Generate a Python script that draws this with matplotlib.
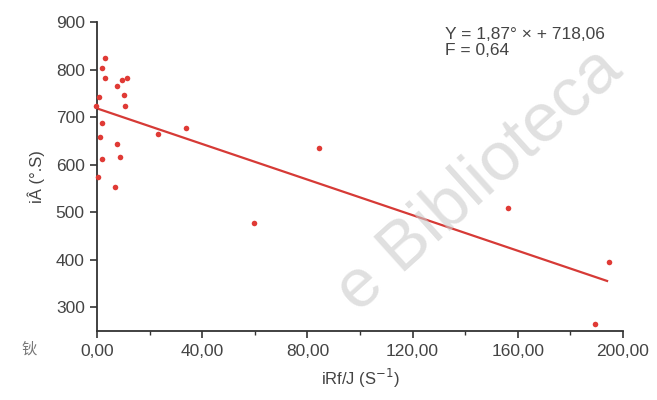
import matplotlib
matplotlib.use("Agg")
import matplotlib.pyplot as plt
from matplotlib.ticker import MultipleLocator, FuncFormatter

plt.rcParams['font.family'] = ['Liberation Sans', 'Noto Sans CJK SC', 'DejaVu Sans']

# points
rate = [2.9, 1.9, 3.0, 0.6, -0.4, 1.9, 0.9, 1.9, 0.4, 7.5, 9.3, 11.3, 10.0, 10.7,
        7.6, 8.8, 6.9, 23.2, 33.6, 84.3, 59.5, 156.3, 194.9, 189.4]
value = [824, 804, 782, 742, 724, 687, 658, 612, 575, 765, 779, 782, 746, 724,
         643, 615, 553, 665, 678, 636, 478, 508, 396, 265]

slope = -1.87
intercept = 718.06
fit_x = [0, 194]

grey = '#444444'
red = '#e03a35'

fig = plt.figure(figsize=(6.57, 4.0), dpi=100)
ax = fig.add_axes([0.148, 0.1725, 0.800, 0.7725])

ax.scatter(rate, value, s=16, color=red, zorder=3, clip_on=False, linewidths=0)
ax.plot(fit_x, [intercept + slope * x for x in fit_x], color='#d63a36', lw=1.6, zorder=2)

ax.set_xlim(0, 200)
ax.set_ylim(250, 900)
ax.xaxis.set_major_locator(MultipleLocator(40))
ax.xaxis.set_minor_locator(MultipleLocator(20))
ax.set_yticks(range(300, 901, 100))
ax.xaxis.set_major_formatter(FuncFormatter(lambda v, p: f"{v:.2f}".replace('.', ',')))

for side in ['top', 'right']:
    ax.spines[side].set_visible(False)
for side in ['left', 'bottom']:
    ax.spines[side].set_color('#333333')
    ax.spines[side].set_linewidth(1.3)

ax.tick_params(which='major', length=5, width=1.2, color='#333333', labelsize=12.5,
               labelcolor=grey, pad=4)
ax.tick_params(which='minor', length=3, width=1.0, color='#333333')

ax.set_xlabel('iRf/J (S$^{-1}$)', fontsize=12, color=grey, labelpad=6)
ax.set_ylabel('iÂ (°.S)', fontsize=12, color=grey, labelpad=8)

ax.text(0.662, 0.985, 'Y = 1,87° × + 718,06\nF = 0,64', transform=ax.transAxes,
        fontsize=12.5, color=grey, va='top', ha='left', linespacing=1.1)

fig.text(0.033, 0.115, '钬', fontsize=11, color='#777777',
         family=['Noto Sans CJK SC', 'DejaVu Sans'])

# watermark, kept inside the figure
fig.text(0.73, 0.55, 'e Biblioteca', fontsize=50, color='#cccccc', alpha=0.6,
         rotation=42, ha='center', va='center', zorder=0)

fig.savefig('out.png', dpi=100)
